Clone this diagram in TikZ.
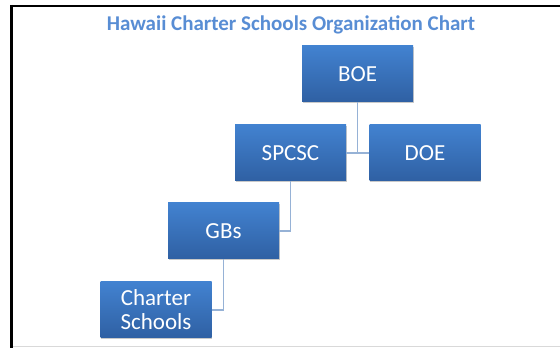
\documentclass[tikz,border=0pt]{standalone}
\usepackage{fontspec}
\setmainfont{Carlito}
\usepackage{tikz}
\usepackage{xcolor}
\usetikzlibrary{positioning, shadows}

\definecolor{titleblue}{RGB}{88,141,212}
\definecolor{boxtop}{RGB}{66,130,208}
\definecolor{boxbottom}{RGB}{47,96,163}
\definecolor{linkblue}{RGB}{150,178,214}

\tikzset{
    orgbox/.style={rectangle, minimum width=111pt, minimum height=56pt, inner sep=2pt,
        top color=boxtop, bottom color=boxbottom, text=white, align=center,
        font=\fontsize{23}{24}\selectfont,
        drop shadow={shadow xshift=0.8pt, shadow yshift=-1.5pt, opacity=0.3, fill=black!70}},
    orglink/.style={draw=linkblue, line width=1.5pt}
}

\begin{document}
\begin{tikzpicture}[x=1pt, y=1pt]
                                \useasboundingbox (0,0) rectangle (560,348);
                                % frame
                                \draw[line width=2.5pt] (10,342) -- (560,342);
                                \draw[line width=2.5pt] (11.5,343) -- (11.5,0);
                                \draw[black!15, line width=0.8pt] (13,1.5) -- (560,1.5);

                                \node[font=\bfseries\fontsize{21}{22}\selectfont, text=titleblue, anchor=base] (title) at (291,317) {Hawaii Charter Schools Organization Chart};

                                \node[orgbox] (boe) at (357.5, 274) {BOE};
                                \node[orgbox] (spcsc) at (290.5, 195) {SPCSC};
                                \node[orgbox] (doe) at (425, 195) {DOE};
                                \node[orgbox] (gbs) at (223.5, 117) {GBs};
                                \node[orgbox] (cs) at (156, 38) {Charter\\Schools};

                                \draw[orglink]
                                (boe.south) -- (boe.south |- spcsc.east)
                                (spcsc.east) -- (doe.west)
                                (spcsc.south) |- (gbs.east)
                                (gbs.south) |- (cs.east);
                            \end{tikzpicture}
\end{document}
